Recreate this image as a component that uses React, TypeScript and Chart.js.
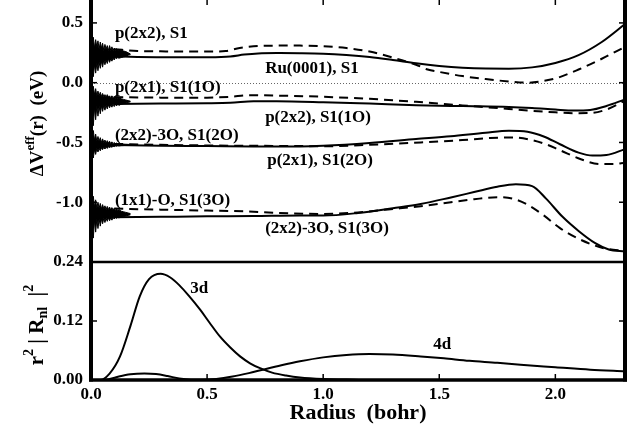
import React, { useEffect, useRef } from "react";
import { Chart, registerables } from "chart.js";

Chart.register(...registerables);

// ---------- tick values ----------
const X_TICKS = [0.0, 0.5, 1.0, 1.5, 2.0];
const TOP_TICKS = [-1.0, -0.5, 0.0, 0.5];
const BOTTOM_TICKS = [0.0, 0.12, 0.24];

// ---------- top panel: ΔV_eff(r) ----------
// p(2x2), S1  (dashed)
const R_P22_S1 = [0.10, 0.20, 0.30, 0.40, 0.50, 0.58, 0.64, 0.70, 0.80, 0.90, 1.00, 1.10, 1.20, 1.30, 1.40, 1.45, 1.50, 1.60, 1.70, 1.80, 1.88, 1.95, 2.00, 2.10, 2.20, 2.30];
const V_P22_S1 = [0.28, 0.265, 0.262, 0.26, 0.26, 0.265, 0.29, 0.305, 0.31, 0.31, 0.305, 0.29, 0.26, 0.21, 0.15, 0.11, 0.09, 0.055, 0.03, 0.01, 0.0, 0.015, 0.035, 0.11, 0.20, 0.30];
// Ru(0001), S1 (solid)
const R_RU_S1 = [0.10, 0.20, 0.30, 0.40, 0.50, 0.60, 0.66, 0.72, 0.80, 0.90, 1.00, 1.10, 1.20, 1.30, 1.40, 1.50, 1.60, 1.70, 1.80, 1.90, 2.00, 2.10, 2.20, 2.30];
const V_RU_S1 = [0.22, 0.215, 0.213, 0.212, 0.213, 0.22, 0.235, 0.245, 0.248, 0.247, 0.243, 0.232, 0.215, 0.19, 0.162, 0.14, 0.125, 0.118, 0.117, 0.128, 0.165, 0.23, 0.34, 0.49];
// p(2x1), S1(1O) (dashed)
const R_P21_S1_1O = [0.10, 0.30, 0.50, 0.60, 0.68, 0.80, 1.00, 1.20, 1.40, 1.60, 1.70, 1.80, 1.90, 2.00, 2.08, 2.15, 2.22, 2.30];
const V_P21_S1_1O = [-0.12, -0.125, -0.125, -0.118, -0.105, -0.108, -0.118, -0.135, -0.16, -0.19, -0.205, -0.22, -0.235, -0.248, -0.255, -0.254, -0.225, -0.15];
// p(2x2), S1(1O) (solid)
const R_P22_S1_1O = [0.10, 0.30, 0.50, 0.60, 0.70, 0.80, 1.00, 1.20, 1.40, 1.60, 1.80, 1.90, 2.00, 2.08, 2.15, 2.22, 2.30];
const V_P22_S1_1O = [-0.178, -0.175, -0.172, -0.168, -0.156, -0.155, -0.163, -0.175, -0.188, -0.196, -0.203, -0.212, -0.225, -0.233, -0.228, -0.195, -0.14];
// (2x2)-3O, S1(2O) (solid)
const R_223O_S1_2O = [0.10, 0.30, 0.50, 0.70, 0.90, 1.00, 1.20, 1.40, 1.55, 1.70, 1.80, 1.88, 1.95, 2.02, 2.10, 2.16, 2.22, 2.30];
const V_223O_S1_2O = [-0.522, -0.528, -0.53, -0.533, -0.533, -0.528, -0.505, -0.472, -0.448, -0.418, -0.402, -0.41, -0.45, -0.515, -0.585, -0.61, -0.605, -0.556];
// p(2x1), S1(2O) (dashed)
const R_P21_S1_2O = [0.10, 0.30, 0.50, 0.70, 0.90, 1.00, 1.20, 1.42, 1.60, 1.72, 1.82, 1.90, 1.96, 2.02, 2.11, 2.19, 2.25, 2.30];
const V_P21_S1_2O = [-0.512, -0.52, -0.525, -0.528, -0.53, -0.532, -0.52, -0.50, -0.48, -0.463, -0.458, -0.48, -0.515, -0.565, -0.64, -0.68, -0.68, -0.669];
// (1x1)-O, S1(3O) (dashed)
const R_11O_S1_3O = [0.10, 0.30, 0.50, 0.66, 0.80, 1.00, 1.15, 1.28, 1.42, 1.55, 1.65, 1.75, 1.82, 1.88, 1.95, 2.02, 2.11, 2.21, 2.30];
const V_11O_S1_3O = [-1.053, -1.062, -1.07, -1.076, -1.09, -1.098, -1.085, -1.06, -1.034, -1.0, -0.975, -0.958, -0.972, -1.02, -1.11, -1.217, -1.315, -1.385, -1.407];
// (2x2)-3O, S1(3O) (solid)
const R_223O_S1_3O = [0.10, 0.30, 0.50, 0.70, 0.90, 1.00, 1.15, 1.30, 1.42, 1.55, 1.65, 1.75, 1.83, 1.90, 1.96, 2.03, 2.10, 2.17, 2.23, 2.30];
const V_223O_S1_3O = [-1.126, -1.122, -1.118, -1.115, -1.11, -1.112, -1.09, -1.05, -1.015, -0.96, -0.915, -0.87, -0.85, -0.865, -0.97, -1.12, -1.24, -1.34, -1.395, -1.413];

// numerical noise near r = 0 (upper / lower envelopes of the black blobs)
const R_NOISE = [0, 0.005, 0.01, 0.015, 0.02, 0.025, 0.03, 0.035, 0.04, 0.045, 0.05, 0.055, 0.06, 0.065, 0.07, 0.075, 0.08, 0.085, 0.09, 0.095, 0.10, 0.105, 0.11, 0.115, 0.12, 0.13, 0.14, 0.15, 0.16, 0.17];
const NOISE1_HI = [0.42, 0.30, 0.38, 0.29, 0.36, 0.30, 0.35, 0.28, 0.34, 0.29, 0.33, 0.27, 0.32, 0.28, 0.31, 0.27, 0.31, 0.27, 0.30, 0.27, 0.29, 0.27, 0.285, 0.265, 0.28, 0.27, 0.265, 0.26, 0.25, 0.24];
const NOISE1_LO = [0.0, 0.14, 0.05, 0.15, 0.08, 0.16, 0.10, 0.17, 0.12, 0.18, 0.13, 0.19, 0.15, 0.19, 0.16, 0.20, 0.17, 0.20, 0.18, 0.205, 0.19, 0.21, 0.20, 0.21, 0.205, 0.21, 0.215, 0.22, 0.23, 0.235];
const NOISE2_HI = [0.0, -0.10, -0.03, -0.10, -0.05, -0.11, -0.07, -0.11, -0.08, -0.115, -0.09, -0.115, -0.10, -0.12, -0.10, -0.12, -0.11, -0.125, -0.11, -0.125, -0.115, -0.13, -0.12, -0.13, -0.125, -0.135, -0.14, -0.145, -0.15, -0.155];
const NOISE2_LO = [-0.42, -0.22, -0.36, -0.21, -0.31, -0.20, -0.28, -0.20, -0.26, -0.195, -0.24, -0.19, -0.23, -0.19, -0.22, -0.185, -0.21, -0.185, -0.205, -0.18, -0.20, -0.18, -0.195, -0.18, -0.19, -0.18, -0.175, -0.17, -0.165, -0.16];
const NOISE3_HI = [-0.36, -0.47, -0.40, -0.48, -0.43, -0.49, -0.45, -0.49, -0.46, -0.50, -0.47, -0.50, -0.48, -0.505, -0.485, -0.505, -0.49, -0.51, -0.495, -0.51, -0.50, -0.51, -0.505, -0.512, -0.508, -0.512, -0.514, -0.515, -0.516, -0.517];
const NOISE3_LO = [-0.66, -0.56, -0.63, -0.56, -0.60, -0.55, -0.58, -0.55, -0.57, -0.545, -0.56, -0.54, -0.555, -0.54, -0.55, -0.535, -0.545, -0.535, -0.54, -0.532, -0.535, -0.53, -0.532, -0.528, -0.53, -0.527, -0.526, -0.525, -0.524, -0.523];
const NOISE4_HI = [-0.90, -1.04, -0.95, -1.04, -0.98, -1.05, -1.0, -1.05, -1.01, -1.055, -1.02, -1.055, -1.03, -1.06, -1.035, -1.06, -1.04, -1.065, -1.045, -1.065, -1.05, -1.07, -1.055, -1.07, -1.06, -1.075, -1.08, -1.085, -1.09, -1.095];
const NOISE4_LO = [-1.36, -1.16, -1.30, -1.15, -1.25, -1.145, -1.22, -1.14, -1.20, -1.14, -1.18, -1.135, -1.17, -1.135, -1.16, -1.13, -1.155, -1.13, -1.15, -1.13, -1.14, -1.128, -1.135, -1.127, -1.13, -1.126, -1.12, -1.115, -1.11, -1.105];

// ---------- bottom panel: r^2 |R_nl|^2 ----------
const R_3D = [0.0, 0.04, 0.08, 0.125, 0.17, 0.21, 0.25, 0.30, 0.34, 0.38, 0.42, 0.47, 0.51, 0.556, 0.60, 0.642, 0.685, 0.728, 0.78, 0.84, 0.90, 1.00, 1.10, 1.20, 1.50, 1.80, 2.30];
const V_3D = [0.0, 0.0, 0.013, 0.048, 0.11, 0.17, 0.205, 0.216, 0.209, 0.193, 0.172, 0.143, 0.117, 0.088, 0.066, 0.048, 0.034, 0.024, 0.015, 0.009, 0.005, 0.002, 0.001, 0.0, 0.0, 0.0, 0.0];
const R_4D = [0.0, 0.05, 0.08, 0.12, 0.17, 0.23, 0.28, 0.33, 0.38, 0.43, 0.48, 0.54, 0.61, 0.68, 0.74, 0.82, 0.90, 1.00, 1.10, 1.20, 1.30, 1.42, 1.52, 1.63, 1.75, 1.85, 2.00, 2.15, 2.30];
const V_4D = [0.0, 0.0, 0.002, 0.007, 0.0115, 0.013, 0.012, 0.008, 0.003, 0.0005, 0.0003, 0.002, 0.007, 0.014, 0.021, 0.03, 0.038, 0.046, 0.051, 0.053, 0.052, 0.048, 0.044, 0.039, 0.035, 0.031, 0.026, 0.021, 0.0175];

// ---------- curve labels ----------
const LABEL_TEXT = ["p(2x2), S1", "Ru(0001), S1", "p(2x1), S1(1O)", "p(2x2), S1(1O)", "(2x2)-3O, S1(2O)", "p(2x1), S1(2O)", "(1x1)-O, S1(3O)", "(2x2)-3O, S1(3O)", "3d", "4d"];
const LABEL_R = [0.103, 0.75, 0.103, 0.75, 0.103, 0.759, 0.103, 0.75, 0.427, 1.474];
const LABEL_V = [0.407, 0.12, -0.04, -0.292, -0.444, -0.655, -0.99, -1.219, 0.185, 0.0716];
const LABEL_AXIS = ["yTop", "yTop", "yTop", "yTop", "yTop", "yTop", "yTop", "yTop", "yBot", "yBot"];

const FAMILY = '"Liberation Serif", "Times New Roman", serif';

function pts(r: number[], v: number[]) {
  return r.map((x, i) => ({ x, y: v[i] }));
}

function curve(r: number[], v: number[], dashed: boolean, axis: string) {
  return {
    data: pts(r, v),
    yAxisID: axis,
    borderColor: "#000",
    borderWidth: 2,
    borderDash: dashed ? [9, 6] : [],
    pointRadius: 0,
    fill: false,
    cubicInterpolationMode: "monotone" as const,
  };
}

function band(lo: number[], hi: number[]) {
  return [
    { data: pts(R_NOISE, lo), yAxisID: "yTop", borderColor: "#000", borderWidth: 1, pointRadius: 0, fill: false, tension: 0 },
    { data: pts(R_NOISE, hi), yAxisID: "yTop", borderColor: "#000", borderWidth: 1, pointRadius: 0, fill: "-1", backgroundColor: "#000", tension: 0 },
  ];
}

type Seg = { t: string; size: number; dy: number };

function drawRich(ctx: CanvasRenderingContext2D, segs: Seg[], cx: number, cy: number) {
  ctx.save();
  ctx.translate(cx, cy);
  ctx.rotate(-Math.PI / 2);
  let total = 0;
  const widths = segs.map((s) => {
    ctx.font = `bold ${s.size}px ${FAMILY}`;
    const w = ctx.measureText(s.t).width;
    total += w;
    return w;
  });
  let x = -total / 2;
  ctx.fillStyle = "#000";
  ctx.textBaseline = "alphabetic";
  ctx.textAlign = "left";
  segs.forEach((s, i) => {
    ctx.font = `bold ${s.size}px ${FAMILY}`;
    ctx.fillText(s.t, x, s.dy);
    x += widths[i];
  });
  ctx.restore();
}

const framePlugin = {
  id: "frame",
  beforeDatasetsDraw(chart: any) {
    const { ctx, chartArea: ca, scales } = chart;
    const yT = scales.yTop;
    const y0 = Math.round(yT.getPixelForValue(0)) + 0.5;
    ctx.save();
    ctx.strokeStyle = "#666";
    ctx.lineWidth = 1;
    ctx.setLineDash([1, 2]);
    ctx.beginPath();
    ctx.moveTo(ca.left, y0);
    ctx.lineTo(ca.right, y0);
    ctx.stroke();
    ctx.restore();
  },
  afterDatasetsDraw(chart: any) {
    const { ctx, chartArea: ca, scales } = chart;
    const xs = scales.x;
    const yT = scales.yTop;
    const yB = scales.yBot;
    const L = ca.left;
    const R = ca.right;
    const T = yT.top;
    const M = yT.bottom;
    const B = yB.bottom;
    const line = (x1: number, y1: number, x2: number, y2: number, w: number) => {
      ctx.lineWidth = w;
      ctx.beginPath();
      ctx.moveTo(x1, y1);
      ctx.lineTo(x2, y2);
      ctx.stroke();
    };
    ctx.save();
    ctx.strokeStyle = "#000";
    ctx.setLineDash([]);
    ctx.lineCap = "butt";
    line(L, T, L, B + 1.5, 4);
    line(R, T, R, B + 1.5, 4);
    line(L, T, R, T, 2);
    line(L - 2, M, R + 2, M, 2.5);
    line(L - 2, B, R + 2, B, 3.5);
    const tl = 6;
    X_TICKS.forEach((v) => {
      const px = xs.getPixelForValue(v);
      line(px, B, px, B - tl, 1.5);
      line(px, T, px, T + tl, 1.5);
    });
    TOP_TICKS.forEach((v) => {
      const py = yT.getPixelForValue(v);
      line(L, py, L + tl, py, 1.5);
      line(R, py, R - tl, py, 1.5);
    });
    BOTTOM_TICKS.forEach((v) => {
      const py = yB.getPixelForValue(v);
      line(L, py, L + tl, py, 1.5);
      line(R, py, R - tl, py, 1.5);
    });
    // curve labels
    ctx.fillStyle = "#000";
    ctx.font = `bold 17px ${FAMILY}`;
    ctx.textAlign = "left";
    ctx.textBaseline = "middle";
    LABEL_TEXT.forEach((t, i) => {
      const sc = scales[LABEL_AXIS[i]];
      ctx.fillText(t, xs.getPixelForValue(LABEL_R[i]), sc.getPixelForValue(LABEL_V[i]));
    });
    // x title
    ctx.font = `bold 22px ${FAMILY}`;
    ctx.textAlign = "center";
    ctx.textBaseline = "middle";
    ctx.fillText("Radius  (bohr)", (L + R) / 2, 414);
    ctx.restore();
    // y titles
    drawRich(
      ctx,
      [
        { t: "\u0394V", size: 19, dy: 0 },
        { t: "eff", size: 13, dy: -9 },
        { t: "(r)  (eV)", size: 19, dy: 0 },
      ],
      43,
      124.5
    );
    drawRich(
      ctx,
      [
        { t: "r", size: 21, dy: 0 },
        { t: "2", size: 14, dy: -10 },
        { t: " | R", size: 21, dy: 0 },
        { t: "nl", size: 14, dy: 4 },
        { t: "  |", size: 21, dy: 0 },
        { t: "2", size: 14, dy: -10 },
      ],
      43,
      326
    );
  },
};

function noPad(s: any) {
  s.paddingTop = 0;
  s.paddingBottom = 0;
  s.paddingLeft = 0;
  s.paddingRight = 0;
}

export default function App() {
  const ref = useRef<HTMLCanvasElement | null>(null);
  useEffect(() => {
    if (!ref.current) return;
    const tickFont = { family: FAMILY, size: 17, weight: "bold" as const };
    const chart = new Chart(ref.current, {
      type: "line",
      data: {
        datasets: [
          ...band(NOISE1_LO, NOISE1_HI),
          ...band(NOISE2_LO, NOISE2_HI),
          ...band(NOISE3_LO, NOISE3_HI),
          ...band(NOISE4_LO, NOISE4_HI),
          curve(R_P22_S1, V_P22_S1, true, "yTop"),
          curve(R_RU_S1, V_RU_S1, false, "yTop"),
          curve(R_P21_S1_1O, V_P21_S1_1O, true, "yTop"),
          curve(R_P22_S1_1O, V_P22_S1_1O, false, "yTop"),
          curve(R_223O_S1_2O, V_223O_S1_2O, false, "yTop"),
          curve(R_P21_S1_2O, V_P21_S1_2O, true, "yTop"),
          curve(R_11O_S1_3O, V_11O_S1_3O, true, "yTop"),
          curve(R_223O_S1_3O, V_223O_S1_3O, false, "yTop"),
          curve(R_3D, V_3D, false, "yBot"),
          curve(R_4D, V_4D, false, "yBot"),
        ] as any,
      },
      options: {
        responsive: false,
        animation: false,
        devicePixelRatio: 1,
        layout: { padding: { top: 0, right: 14, left: 0, bottom: 0 } },
        plugins: { legend: { display: false }, tooltip: { enabled: false } },
        scales: {
          x: {
            type: "linear",
            position: "bottom",
            min: 0,
            max: 2.3,
            grid: { display: false, drawTicks: false },
            border: { display: false },
            ticks: { font: tickFont, color: "#000", padding: 4, maxRotation: 0, callback: (v: any) => Number(v).toFixed(1) },
            afterBuildTicks: (s: any) => {
              s.ticks = X_TICKS.map((value) => ({ value }));
            },
            afterFit: (s: any) => {
              s.height = 54;
              noPad(s);
            },
          },
          yTop: {
            type: "linear",
            position: "left",
            stack: "panels",
            stackWeight: 263,
            weight: 2,
            min: -1.5,
            max: 0.7,
            grid: { display: false, drawTicks: false },
            border: { display: false },
            ticks: { font: tickFont, color: "#000", padding: 8, callback: (v: any) => Number(v).toFixed(1) },
            afterBuildTicks: (s: any) => {
              s.ticks = TOP_TICKS.map((value) => ({ value }));
            },
            afterFit: (s: any) => {
              s.width = 91;
              noPad(s);
            },
          },
          yBot: {
            type: "linear",
            position: "left",
            stack: "panels",
            stackWeight: 118,
            weight: 1,
            min: 0,
            max: 0.24,
            grid: { display: false, drawTicks: false },
            border: { display: false },
            ticks: { font: tickFont, color: "#000", padding: 8, callback: (v: any) => Number(v).toFixed(2) },
            afterBuildTicks: (s: any) => {
              s.ticks = BOTTOM_TICKS.map((value) => ({ value }));
            },
            afterFit: (s: any) => {
              s.width = 91;
              noPad(s);
            },
          },
        } as any,
      },
      plugins: [framePlugin],
    });
    return () => chart.destroy();
  }, []);
  return (
    <div style={{ position: "absolute", left: 0, top: -1, width: 639, height: 435, background: "#fff" }}>
      <canvas ref={ref} width={639} height={435} style={{ width: 639, height: 435, display: "block" }} />
    </div>
  );
}
